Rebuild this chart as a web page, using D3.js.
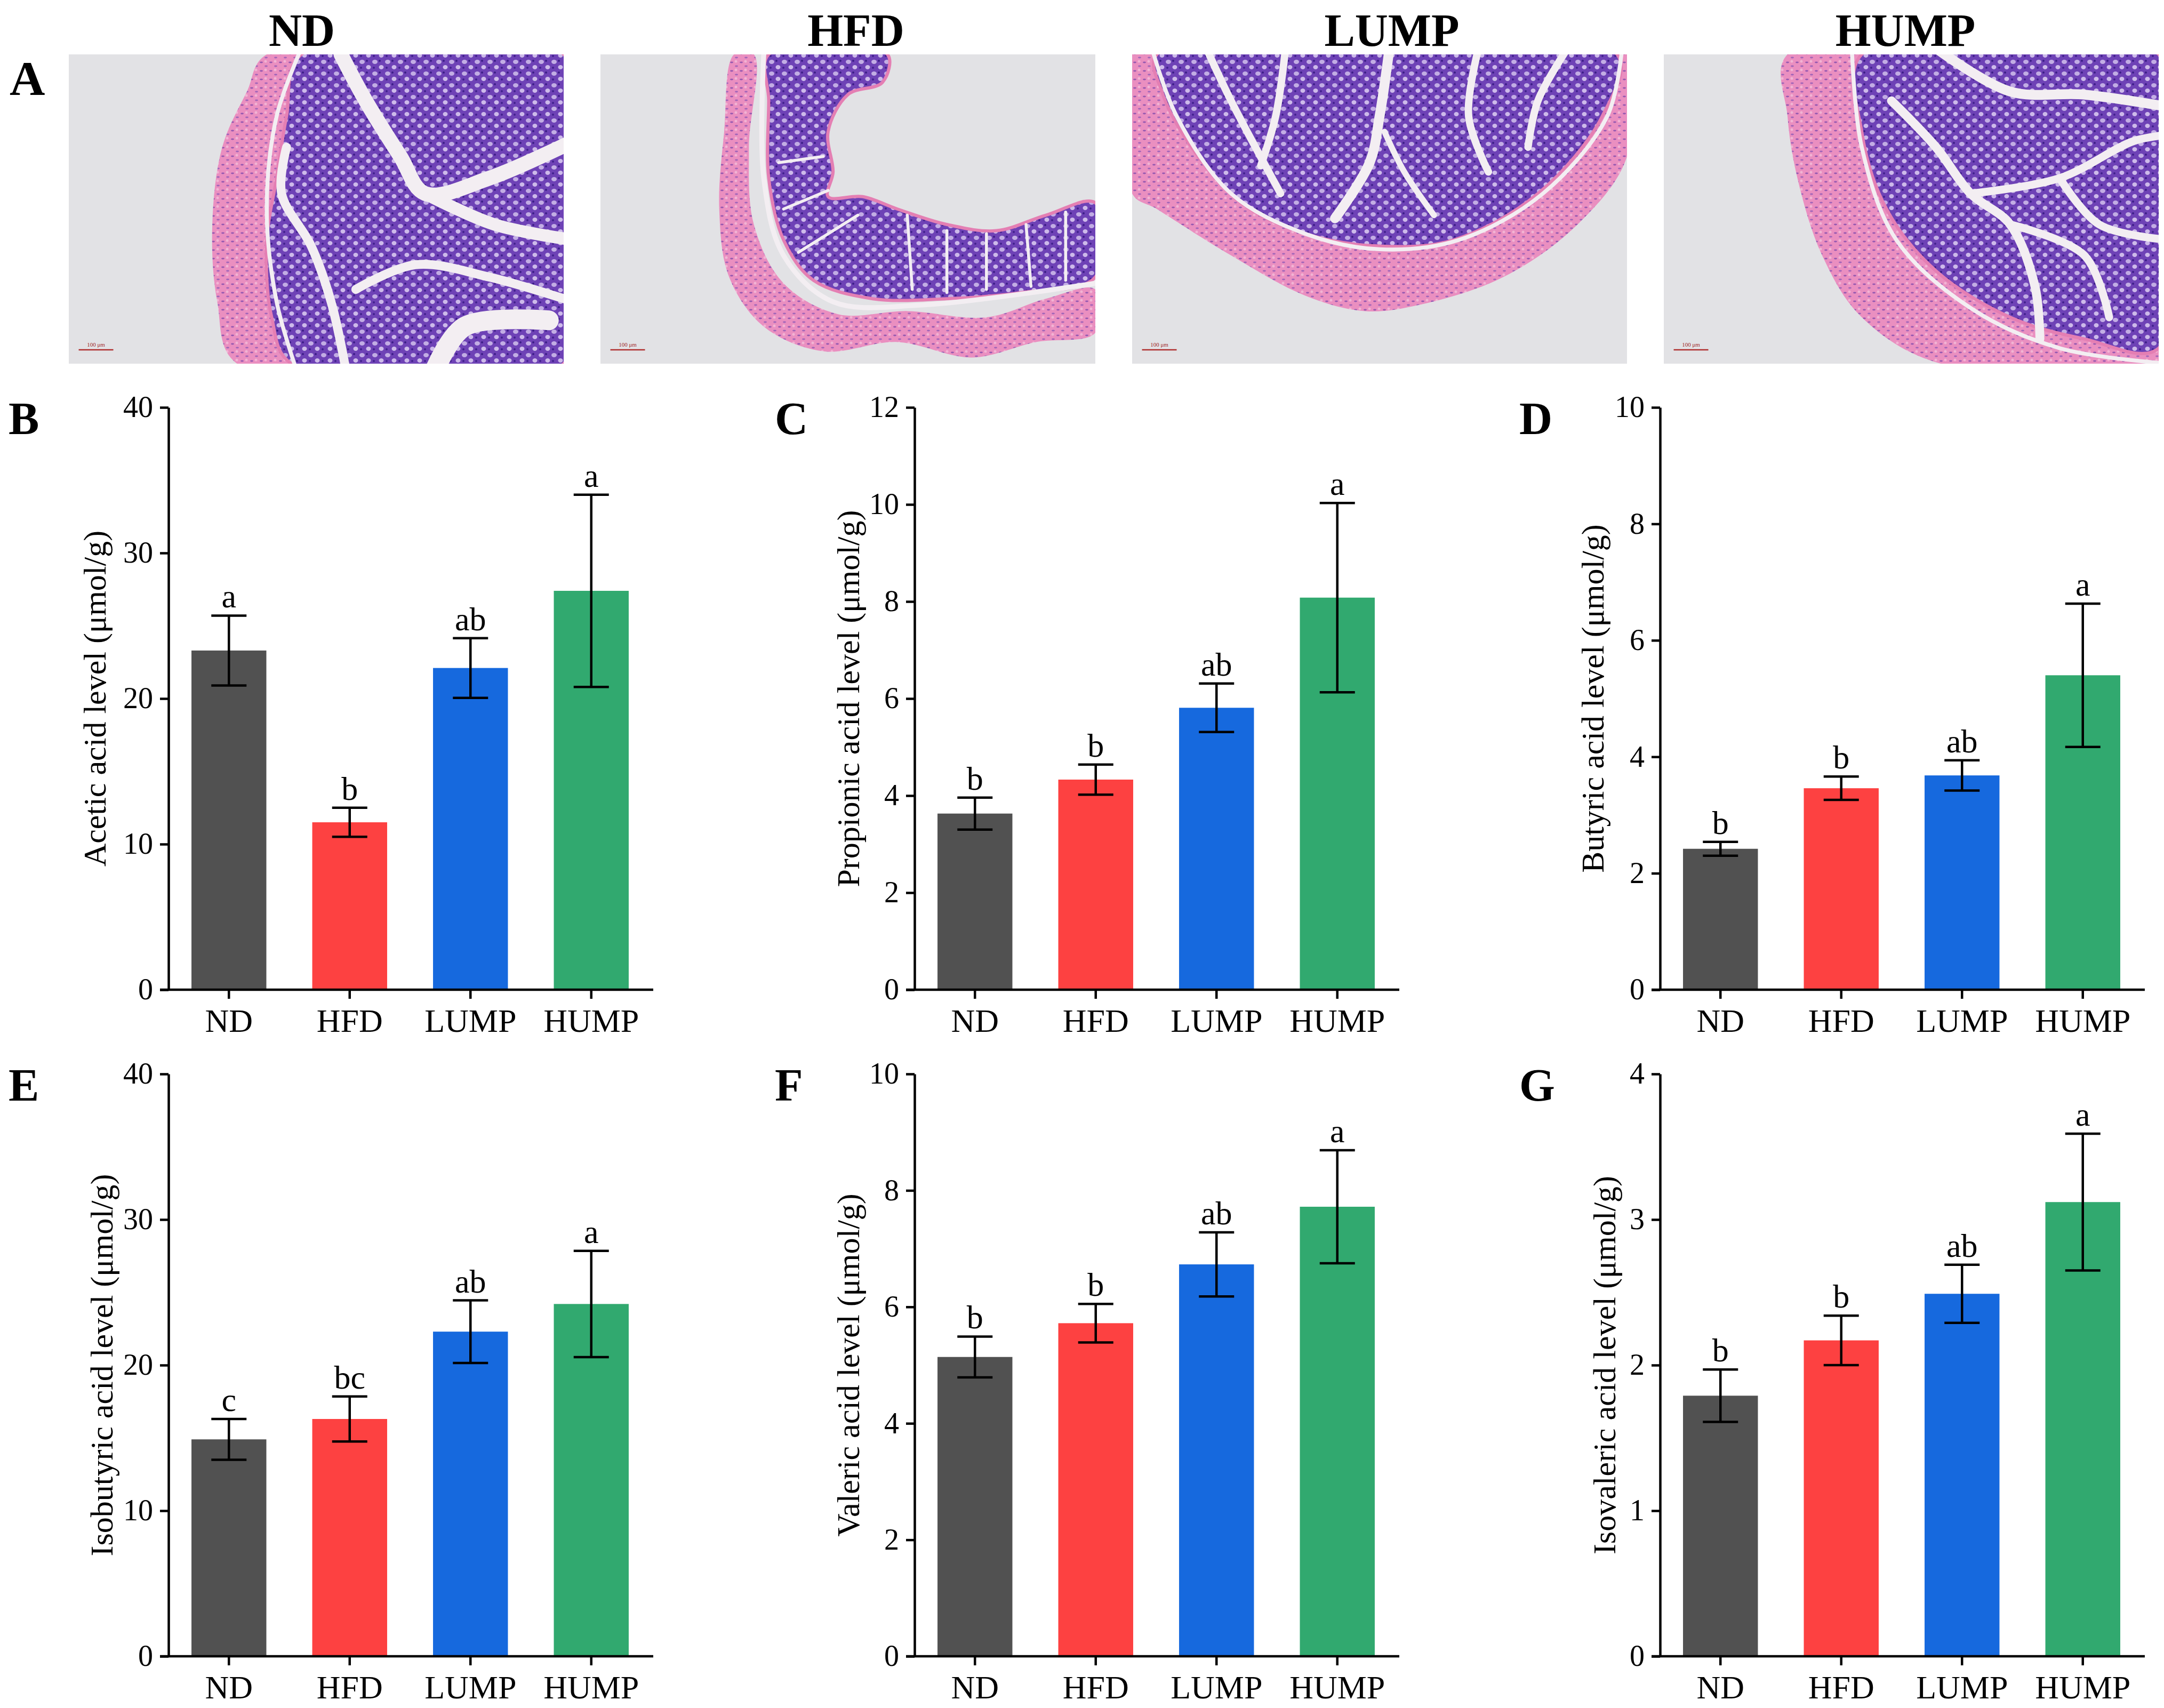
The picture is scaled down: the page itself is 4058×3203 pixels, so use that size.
<!DOCTYPE html>
<html>
<head>
<meta charset="utf-8">
<script src="https://cdn.jsdelivr.net/npm/d3@7"></script>
<style>
  body { margin: 0; background: #fff; }
  text { font-family: "Liberation Serif", "Times New Roman", serif; fill: #000; }
</style>
</head>
<body>
<div id="chart"></div>
<script>
const W = 4058, H = 3203;

// groups and colours
const groups = ["ND", "HFD", "LUMP", "HUMP"];
const barColors = ["#515151", "#fd4141", "#1669de", "#31a96f"];

// SCFA levels (mean, sd)
const aceticMean = [23.3, 11.5, 22.1, 27.4];
const aceticSd = [2.4, 1.0, 2.05, 6.6];
const aceticLetters = ["a", "b", "ab", "a"];

const propionicMean = [3.63, 4.33, 5.81, 8.08];
const propionicSd = [0.33, 0.31, 0.5, 1.95];
const propionicLetters = ["b", "b", "ab", "a"];

const butyricMean = [2.42, 3.46, 3.68, 5.4];
const butyricSd = [0.12, 0.2, 0.26, 1.23];
const butyricLetters = ["b", "b", "ab", "a"];

const isobutyricMean = [14.9, 16.3, 22.3, 24.2];
const isobutyricSd = [1.4, 1.55, 2.15, 3.65];
const isobutyricLetters = ["c", "bc", "ab", "a"];

const valericMean = [5.14, 5.72, 6.73, 7.72];
const valericSd = [0.35, 0.33, 0.55, 0.97];
const valericLetters = ["b", "b", "ab", "a"];

const isovalericMean = [1.79, 2.17, 2.49, 3.12];
const isovalericSd = [0.18, 0.17, 0.2, 0.47];
const isovalericLetters = ["b", "b", "ab", "a"];

// y tick values per panel
const ticksB = [0, 10, 20, 30, 40];
const ticksC = [0, 2, 4, 6, 8, 10, 12];
const ticksD = [0, 2, 4, 6, 8, 10];
const ticksE = [0, 10, 20, 30, 40];
const ticksF = [0, 2, 4, 6, 8, 10];
const ticksG = [0, 1, 2, 3, 4];

const panels = [
  {tag: "B", title: "Acetic acid level (μmol/g)", mean: aceticMean, sd: aceticSd, letters: aceticLetters, ticks: ticksB},
  {tag: "C", title: "Propionic acid level (μmol/g)", mean: propionicMean, sd: propionicSd, letters: propionicLetters, ticks: ticksC},
  {tag: "D", title: "Butyric acid level (μmol/g)", mean: butyricMean, sd: butyricSd, letters: butyricLetters, ticks: ticksD},
  {tag: "E", title: "Isobutyric acid level (μmol/g)", mean: isobutyricMean, sd: isobutyricSd, letters: isobutyricLetters, ticks: ticksE},
  {tag: "F", title: "Valeric acid level (μmol/g)", mean: valericMean, sd: valericSd, letters: valericLetters, ticks: ticksF},
  {tag: "G", title: "Isovaleric acid level (μmol/g)", mean: isovalericMean, sd: isovalericSd, letters: isovalericLetters, ticks: ticksG}
];

// layout
const colX = [316, 1715, 3113];
const rowTop = [764, 2014];
const plotH = 1092, plotW = 906;
const tagDx = [-300, -262, -264];
const titleDx = [-118, -104, -106, -105, -104, -84];

const svg = d3.select("#chart").append("svg")
  .attr("width", W).attr("height", H)
  .attr("viewBox", `0 0 ${W} ${H}`);
svg.append("rect").attr("width", W).attr("height", H).attr("fill", "#fff");

const defs = svg.append("defs");

// ---------- panel A : stylised H&E micrographs ----------
const imgX = [129, 1126, 2123, 3120];
const imgW = 928, imgTop = 102, imgH = 580;
const titleX = [566, 1605, 2610, 3573];

// crypt texture (goblet cells on purple)
const pGob = defs.append("pattern").attr("id", "goblet")
  .attr("patternUnits", "userSpaceOnUse").attr("width", 24).attr("height", 22);
pGob.append("rect").attr("width", 24).attr("height", 22).attr("fill", "#6e42b6");
pGob.append("ellipse").attr("cx", 7).attr("cy", 6).attr("rx", 5).attr("ry", 4).attr("fill", "#c2ade4");
pGob.append("ellipse").attr("cx", 19).attr("cy", 16).attr("rx", 4.5).attr("ry", 4).attr("fill", "#cdbaea");
pGob.append("circle").attr("cx", 16).attr("cy", 4).attr("r", 2).attr("fill", "#3b1d86");
pGob.append("circle").attr("cx", 5).attr("cy", 17).attr("r", 2).attr("fill", "#40208c");

// muscle texture (pink with nuclei)
const pMus = defs.append("pattern").attr("id", "muscle")
  .attr("patternUnits", "userSpaceOnUse").attr("width", 18).attr("height", 16);
pMus.append("rect").attr("width", 18).attr("height", 16).attr("fill", "#ea8fc0");
pMus.append("ellipse").attr("cx", 4).attr("cy", 5).attr("rx", 3).attr("ry", 1.4).attr("fill", "#9558b0");
pMus.append("ellipse").attr("cx", 13).attr("cy", 12).attr("rx", 3).attr("ry", 1.4).attr("fill", "#a064b8");
pMus.append("circle").attr("cx", 12).attr("cy", 3).attr("r", 2.5).attr("fill", "#f2b4d4");

const tissues = [
  { // ND
    pink: [[0.40,0],[1,0],[1,1],[0.34,1],[0.30,0.8],[0.29,0.55],[0.31,0.3],[0.36,0.12]],
    purple: [[0.47,0],[1,0],[1,1],[0.45,1],[0.41,0.85],[0.40,0.6],[0.42,0.4],[0.44,0.2]],
    gaps: [
      {w: 0.03, p: [[0.55,0],[0.60,0.15],[0.67,0.33],[0.72,0.45],[0.85,0.40],[1.02,0.28]]},
      {w: 0.025, p: [[0.72,0.45],[0.86,0.55],[1.02,0.60]]},
      {w: 0.018, p: [[0.44,0.30],[0.43,0.45],[0.49,0.62],[0.53,0.8],[0.56,1.02]]},
      {w: 0.018, p: [[0.58,0.76],[0.70,0.68],[0.85,0.72],[1.02,0.80]]},
      {w: 0.04, p: [[0.74,1.02],[0.80,0.88],[0.97,0.86]]},
      {w: 0.008, p: [[0.47,-0.02],[0.42,0.2],[0.40,0.5],[0.42,0.8],[0.46,1.02]]}
    ]
  },
  { // HFD
    pink: [[0.27,0],[0.31,0],[0.30,0.3],[0.31,0.55],[0.37,0.74],[0.48,0.84],[0.62,0.83],[0.78,0.85],[0.90,0.79],[1.0,0.76],[1.0,0.90],[0.88,0.93],[0.75,0.98],[0.60,0.93],[0.45,0.96],[0.33,0.88],[0.26,0.72],[0.24,0.5],[0.25,0.25]],
    purple: [[0.34,0],[0.58,0],[0.57,0.09],[0.50,0.13],[0.46,0.25],[0.47,0.38],[0.46,0.46],[0.53,0.46],[0.60,0.50],[0.70,0.55],[0.80,0.57],[0.90,0.52],[1.0,0.48],[1.0,0.72],[0.85,0.77],[0.70,0.79],[0.55,0.79],[0.43,0.73],[0.37,0.6],[0.34,0.4],[0.34,0.15]],
    gaps: [
      {w: 0.006, p: [[0.62,0.52],[0.63,0.76]]},
      {w: 0.006, p: [[0.70,0.57],[0.70,0.77]]},
      {w: 0.006, p: [[0.78,0.58],[0.78,0.76]]},
      {w: 0.006, p: [[0.86,0.55],[0.87,0.75]]},
      {w: 0.006, p: [[0.94,0.51],[0.94,0.73]]},
      {w: 0.006, p: [[0.36,0.35],[0.45,0.33]]},
      {w: 0.006, p: [[0.37,0.5],[0.46,0.44]]},
      {w: 0.006, p: [[0.40,0.64],[0.52,0.52]]},
      {w: 0.01, p: [[0.33,0],[0.33,0.4],[0.37,0.65],[0.47,0.80],[0.65,0.81],[1.0,0.74]]}
    ]
  },
  { // LUMP
    pink: [[0,0],[1,0],[1,0.33],[0.90,0.55],[0.75,0.72],[0.58,0.81],[0.47,0.83],[0.35,0.78],[0.2,0.65],[0.05,0.5],[0,0.45]],
    purple: [[0.05,0],[0.98,0],[0.95,0.2],[0.82,0.45],[0.65,0.6],[0.50,0.62],[0.35,0.58],[0.22,0.48],[0.12,0.3],[0.06,0.12]],
    gaps: [
      {w: 0.02, p: [[0.52,-0.02],[0.50,0.2],[0.48,0.35],[0.41,0.53]]},
      {w: 0.012, p: [[0.51,0.25],[0.55,0.38],[0.61,0.52]]},
      {w: 0.015, p: [[0.31,-0.02],[0.29,0.2],[0.26,0.36]]},
      {w: 0.015, p: [[0.70,-0.02],[0.68,0.2],[0.72,0.38]]},
      {w: 0.015, p: [[0.15,-0.02],[0.20,0.15],[0.30,0.45]]},
      {w: 0.015, p: [[0.88,-0.02],[0.82,0.15],[0.80,0.30]]},
      {w: 0.008, p: [[0.04,-0.02],[0.09,0.2],[0.20,0.45],[0.35,0.58],[0.50,0.63],[0.66,0.6],[0.83,0.45],[0.96,0.2],[0.99,-0.02]]}
    ]
  },
  { // HUMP
    pink: [[0.25,0],[1,0],[1,1],[0.56,1],[0.40,0.85],[0.32,0.65],[0.27,0.4],[0.25,0.2]],
    purple: [[0.40,0],[1,0],[1,0.95],[0.85,0.92],[0.70,0.85],[0.55,0.7],[0.45,0.5],[0.40,0.25]],
    gaps: [
      {w: 0.018, p: [[0.46,0.15],[0.55,0.3],[0.62,0.45],[0.70,0.55],[0.75,0.75],[0.76,0.92]]},
      {w: 0.02, p: [[0.55,-0.02],[0.70,0.12],[0.85,0.13],[1.02,0.17]]},
      {w: 0.016, p: [[0.62,0.45],[0.80,0.40],[0.95,0.28],[1.02,0.26]]},
      {w: 0.016, p: [[0.80,0.40],[0.88,0.55],[1.02,0.60]]},
      {w: 0.016, p: [[0.70,0.55],[0.85,0.65],[0.90,0.85]]},
      {w: 0.008, p: [[0.38,-0.02],[0.40,0.3],[0.47,0.6],[0.62,0.82],[0.80,0.95],[1.02,1.0]]}
    ]
  }
];

const closed = d3.line().curve(d3.curveCatmullRomClosed);
const open = d3.line().curve(d3.curveCatmullRom);

groups.forEach((g, i) => {
  const sx = d3.scaleLinear().domain([0, 1]).range([imgX[i], imgX[i] + imgW]);
  const sy = d3.scaleLinear().domain([0, 1]).range([imgTop, imgTop + imgH]);
  const proj = pts => pts.map(p => [sx(p[0]), sy(p[1])]);
  const t = tissues[i];

  defs.append("clipPath").attr("id", "clip" + i)
    .append("rect").attr("x", imgX[i]).attr("y", imgTop).attr("width", imgW).attr("height", imgH);

  const im = svg.append("g").attr("clip-path", `url(#clip${i})`);
  im.append("rect").attr("x", imgX[i]).attr("y", imgTop).attr("width", imgW).attr("height", imgH)
    .attr("fill", "#e2e2e5");
  im.append("path").attr("d", closed(proj(t.pink))).attr("fill", "url(#muscle)");
  im.append("path").attr("d", closed(proj(t.purple))).attr("fill", "url(#goblet)")
    .attr("stroke", "#e47fb3").attr("stroke-width", 6);
  t.gaps.forEach(gp => {
    im.append("path").attr("d", open(proj(gp.p))).attr("fill", "none")
      .attr("stroke", "#f3eef2").attr("stroke-width", gp.w * imgW).attr("stroke-linecap", "round");
  });

  // scale bar
  im.append("line").attr("x1", sx(0.02)).attr("x2", sx(0.09)).attr("y1", sy(0.955)).attr("y2", sy(0.955))
    .attr("stroke", "#b03030").attr("stroke-width", 2.5);
  im.append("text").attr("x", sx(0.055)).attr("y", sy(0.945)).attr("text-anchor", "middle")
    .style("font-size", "11px").style("fill", "#a02828").text("100 μm");

  svg.append("text").attr("x", titleX[i]).attr("y", 86).attr("text-anchor", "middle")
    .style("font-size", "86px").style("font-weight", "bold").text(g);
});

svg.append("text").attr("x", 18).attr("y", 178)
  .style("font-size", "92px").style("font-weight", "bold").text("A");

// ---------- panels B-G : bar charts ----------
panels.forEach((p, k) => {
  const c = k % 3, r = Math.floor(k / 3);
  const ox = colX[c], oy = rowTop[r];

  const g = svg.append("g").attr("transform", `translate(${ox},${oy})`);

  const x = d3.scaleBand().domain(groups).range([0, plotW])
    .paddingInner(0.38).paddingOuter(0.19);
  const y = d3.scaleLinear().domain([0, d3.max(p.ticks)]).range([plotH, 0]);

  // bars
  g.selectAll("rect.bar").data(groups).join("rect")
    .attr("class", "bar")
    .attr("x", d => x(d))
    .attr("width", x.bandwidth())
    .attr("y", (d, i) => y(p.mean[i]))
    .attr("height", (d, i) => plotH - y(p.mean[i]))
    .attr("fill", (d, i) => barColors[i]);

  // error bars
  const cap = 33;
  const eb = g.selectAll("g.err").data(groups).join("g").attr("class", "err")
    .attr("stroke", "#000").attr("stroke-width", 4.5);
  eb.append("line")
    .attr("x1", d => x(d) + x.bandwidth() / 2).attr("x2", d => x(d) + x.bandwidth() / 2)
    .attr("y1", (d, i) => y(p.mean[i] - p.sd[i])).attr("y2", (d, i) => y(p.mean[i] + p.sd[i]));
  eb.append("line")
    .attr("x1", d => x(d) + x.bandwidth() / 2 - cap).attr("x2", d => x(d) + x.bandwidth() / 2 + cap)
    .attr("y1", (d, i) => y(p.mean[i] + p.sd[i])).attr("y2", (d, i) => y(p.mean[i] + p.sd[i]));
  eb.append("line")
    .attr("x1", d => x(d) + x.bandwidth() / 2 - cap).attr("x2", d => x(d) + x.bandwidth() / 2 + cap)
    .attr("y1", (d, i) => y(p.mean[i] - p.sd[i])).attr("y2", (d, i) => y(p.mean[i] - p.sd[i]));

  // significance letters
  g.selectAll("text.sig").data(groups).join("text")
    .attr("class", "sig")
    .attr("x", d => x(d) + x.bandwidth() / 2)
    .attr("y", (d, i) => y(p.mean[i] + p.sd[i]) - 15)
    .attr("text-anchor", "middle")
    .style("font-size", "62px")
    .text((d, i) => p.letters[i]);

  // y axis
  const yAxis = g.append("g")
    .call(d3.axisLeft(y).tickValues(p.ticks).tickFormat(d3.format("d"))
      .tickSize(16).tickPadding(13).tickSizeOuter(0));
  yAxis.selectAll("path, line").attr("stroke", "#000").attr("stroke-width", 4.5);
  yAxis.selectAll("text").style("font-size", "56px")
    .style("font-family", "'Liberation Serif', serif").attr("fill", "#000");

  // x axis
  const xAxis = g.append("g").attr("transform", `translate(0,${plotH})`)
    .call(d3.axisBottom(x).tickSize(17).tickPadding(18).tickSizeOuter(0));
  xAxis.select(".domain").remove();
  xAxis.selectAll("line").attr("stroke", "#000").attr("stroke-width", 4.5);
  xAxis.selectAll("text").style("font-size", "62px")
    .style("font-family", "'Liberation Serif', serif").attr("fill", "#000");
  g.append("line").attr("x1", -16).attr("x2", plotW + 3).attr("y1", plotH).attr("y2", plotH)
    .attr("stroke", "#000").attr("stroke-width", 4.5);

  // axis title
  g.append("text")
    .attr("transform", `translate(${titleDx[k]},${plotH / 2}) rotate(-90)`)
    .attr("text-anchor", "middle")
    .style("font-size", "60px")
    .text(p.title);

  // panel tag
  svg.append("text").attr("x", ox + tagDx[c]).attr("y", oy + 50)
    .style("font-size", "86px").style("font-weight", "bold").text(p.tag);
});
</script>
</body>
</html>
